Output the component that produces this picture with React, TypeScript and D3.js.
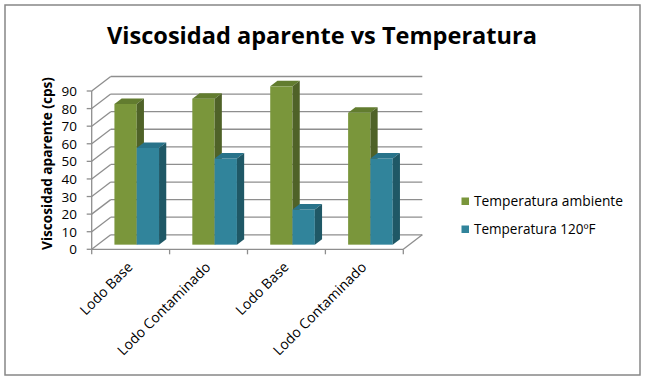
import React from "react";
import * as d3 from "d3";

const categories = ["Lodo Base", "Lodo Contaminado", "Lodo Base ", "Lodo Contaminado "];
const categoryLabels = ["Lodo Base", "Lodo Contaminado", "Lodo Base", "Lodo Contaminado"];
const seriesNames = ["Temperatura ambiente", "Temperatura 120ºF"];
const ambiente = [80, 83, 90, 75];
const t120 = [55, 49, 20, 49];
const yTicks = [0, 10, 20, 30, 40, 50, 60, 70, 80, 90];

const W = 646;
const H = 383;
const FONT = "'Open Sans', 'DejaVu Sans', sans-serif";

const colors = [
  { front: "#7A963B", top: "#627C2F", side: "#4F6228" },
  { front: "#31849B", top: "#28738A", side: "#1F5866" },
];

export default function App() {
  const left = 91.7;
  const right = 403.3;
  const y = d3.scaleLinear().domain([0, 90]).range([249.3, 91]);
  const x0 = d3.scaleBand<string>().domain(categories).range([left, right]).padding(0);
  const x1 = d3
    .scaleBand<string>()
    .domain(seriesNames)
    .range([0, x0.bandwidth()])
    .paddingInner(0)
    .paddingOuter(0.746);
  const D = { x: 19, y: -14.5 };
  const tFront = 0.32;
  const tBack = 0.7;
  const grid = "#8E8E8E";

  const series = [ambiente, t120];

  const bars: JSX.Element[] = [];
  categories.forEach((c, ci) => {
    seriesNames.forEach((s, si) => {
      const v = series[si][ci];
      const bx = (x0(c) as number) + (x1(s) as number) + tFront * D.x;
      const w = x1.bandwidth();
      const yb = y(0) + tFront * D.y;
      const yt = y(v) + tFront * D.y;
      const dx = (tBack - tFront) * D.x;
      const dy = (tBack - tFront) * D.y;
      const col = colors[si];
      bars.push(
        <g key={`${ci}-${si}`}>
          <rect x={bx} y={yt} width={w} height={yb - yt} fill={col.front} />
          <polygon
            points={`${bx},${yt} ${bx + w},${yt} ${bx + w + dx},${yt + dy} ${bx + dx},${yt + dy}`}
            fill={col.top}
          />
          <polygon
            points={`${bx + w},${yt} ${bx + w + dx},${yt + dy} ${bx + w + dx},${yb + dy} ${bx + w},${yb}`}
            fill={col.side}
          />
        </g>
      );
    });
  });

  const boundaries = [left, ...categories.map((c) => (x0(c) as number) + x0.bandwidth())];

  return (
    <svg
      width={W}
      height={H}
      style={{ position: "absolute", left: 0, top: 0, background: "#fff" }}
      fontFamily={FONT}
    >
      <rect x={5} y={5} width={635} height={370} fill="#fff" stroke="#878787" strokeWidth={1.5} />
      <text
        x={322}
        y={44}
        textAnchor="middle"
        fontSize={23}
        fontWeight="bold"
        textLength={430}
        lengthAdjust="spacingAndGlyphs"
        fill="#000"
      >
        Viscosidad aparente vs Temperatura
      </text>

      {/* walls: gridlines */}
      {yTicks.map((t) => (
        <g key={t}>
          <line x1={left} y1={y(t)} x2={left + D.x} y2={y(t) + D.y} stroke={grid} strokeWidth={1.3} />
          <line
            x1={left + D.x}
            y1={y(t) + D.y}
            x2={right + D.x}
            y2={y(t) + D.y}
            stroke={grid}
            strokeWidth={1.3}
          />
          <line x1={left - 5} y1={y(t)} x2={left} y2={y(t)} stroke={grid} strokeWidth={1.3} />
          <text x={77} y={y(t) + 5} textAnchor="end" fontSize={13.5} fill="#000">
            {t}
          </text>
        </g>
      ))}
      {/* axes */}
      <line x1={left} y1={y(90)} x2={left} y2={y(0)} stroke={grid} strokeWidth={1.3} />
      <line x1={left} y1={y(0)} x2={right} y2={y(0)} stroke={grid} strokeWidth={1.3} />
      <line x1={right} y1={y(0)} x2={right + D.x} y2={y(0) + D.y} stroke={grid} strokeWidth={1.3} />
      {boundaries.map((b, i) => (
        <line key={i} x1={b} y1={y(0)} x2={b} y2={y(0) + 5} stroke={grid} strokeWidth={1.3} />
      ))}

      {bars}

      {/* category labels */}
      {categories.map((c, i) => {
        const cx = (x0(c) as number) + x0.bandwidth() / 2 + 3;
        const cy = 268;
        return (
          <text
            key={c}
            x={cx}
            y={cy}
            textAnchor="end"
            fontSize={14}
            transform={`rotate(-45 ${cx} ${cy})`}
            fill="#000"
          >
            {categoryLabels[i]}
          </text>
        );
      })}

      {/* y-axis title */}
      <text
        transform="translate(52 163.5) rotate(-90)"
        textAnchor="middle"
        fontSize={13.5}
        fontWeight="bold"
        textLength={173}
        lengthAdjust="spacingAndGlyphs"
        fill="#000"
      >
        Viscosidad aparente (cps)
      </text>

      {/* legend */}
      {seriesNames.map((s, i) => (
        <g key={s}>
          <rect x={461.5} y={197.5 + i * 28} width={7.5} height={7.5} fill={colors[i].front} />
          <text
            x={474}
            y={205.5 + i * 28}
            fontSize={14}
            fill="#000"
            textLength={i === 0 ? 149 : 121.5}
            lengthAdjust="spacingAndGlyphs"
          >
            {s}
          </text>
        </g>
      ))}
    </svg>
  );
}
